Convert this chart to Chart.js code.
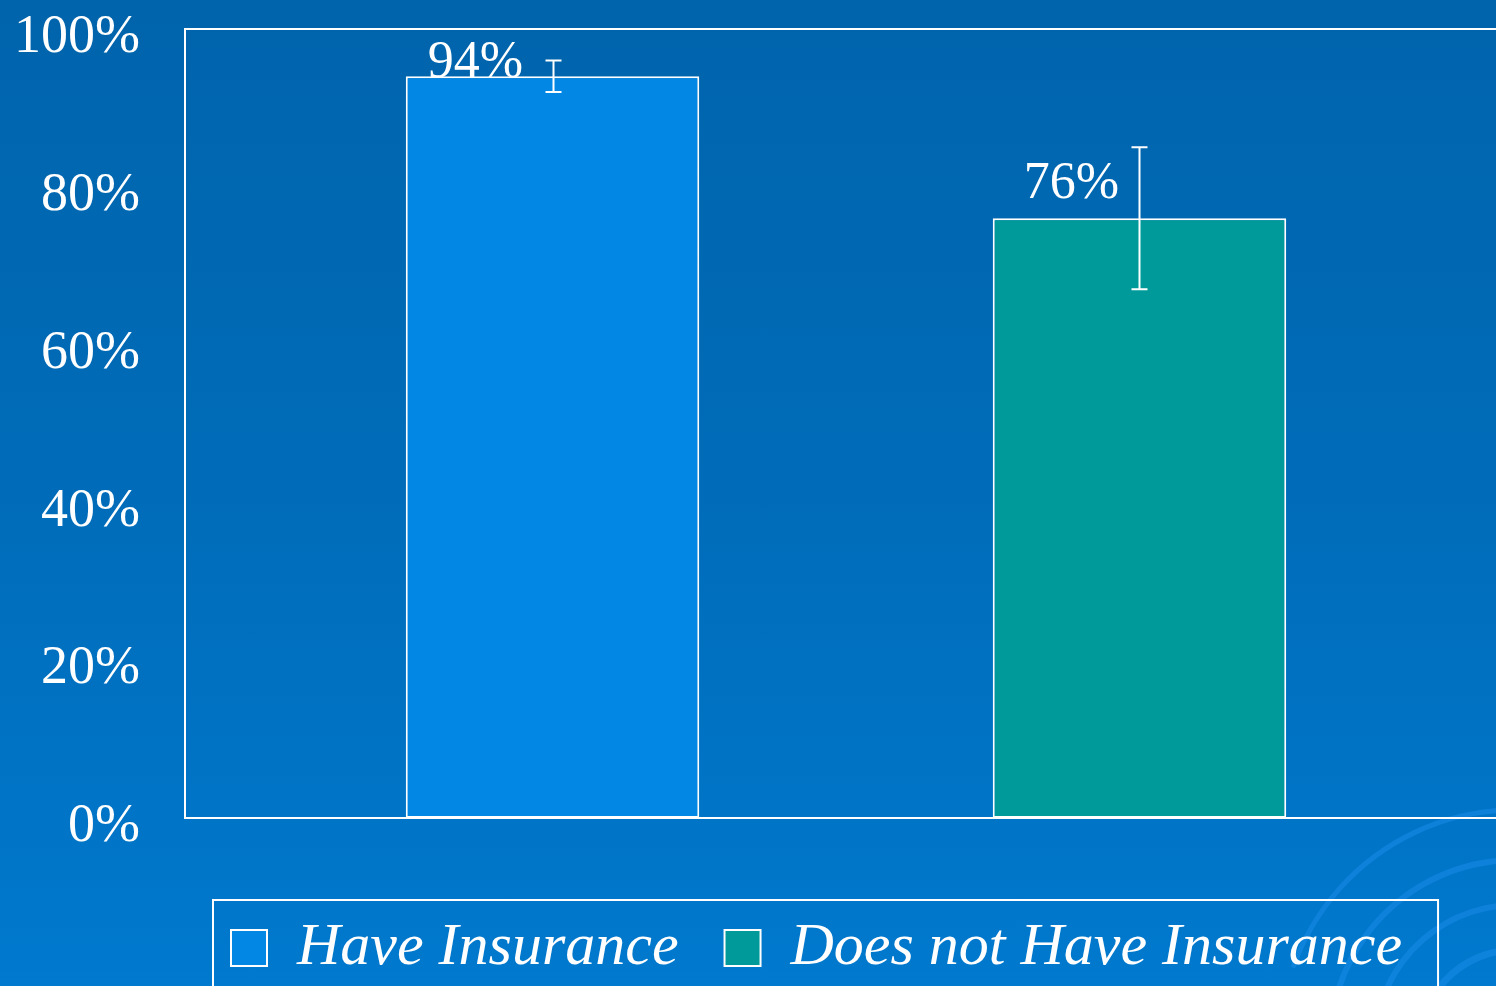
<!DOCTYPE html>
<html>
<head>
<meta charset="utf-8">
<title>Insurance</title>
<script src="https://cdn.jsdelivr.net/npm/chart.js@4.4.0/dist/chart.umd.min.js"></script>
<style>
    html, body {
        margin: 0;
        padding: 0;
        width: 1496px;
        height: 986px;
        overflow: hidden;
        background: linear-gradient(#0064ac, #006cb9 50%, #0079ce);
    }
    canvas { display: block; }
</style>
</head>
<body>
<canvas id="insurance-chart" width="1520" height="988"></canvas>
<script>
    'use strict';

    // series shown in the chart
    var seriesNames = ['Have Insurance', 'Does not Have Insurance'];
    var seriesValues = [94, 76];
    var seriesErrors = [2, 9];
    var seriesColors = ['#0287e4', '#009a9a'];
    var yTicks = [0, 20, 40, 60, 80, 100];

    var WHITE = '#ffffff';
    var SERIF = "'Liberation Serif', 'Times New Roman', serif";

    // faint rings in the lower right corner of the slide
    var backdropRings = {
        id: 'backdropRings',
        beforeDraw: function (chart) {
            var ctx = chart.ctx;
            ctx.save();
            ctx.strokeStyle = 'rgba(30, 145, 240, 0.45)';
            ctx.lineCap = 'round';
            [[95, 7], [140, 6], [185, 6], [235, 5]].forEach(function (r, i) {
                ctx.lineWidth = r[1];
                ctx.beginPath();
                ctx.arc(1515, 1045, r[0], Math.PI * (1.02 + i * 0.03), Math.PI * 1.62);
                ctx.stroke();
            });
            ctx.restore();
        }
    };

    // white frame round the plot area and round the legend
    var frames = {
        id: 'frames',
        afterDraw: function (chart) {
            var ctx = chart.ctx;
            var a = chart.chartArea;
            ctx.save();
            ctx.strokeStyle = WHITE;
            ctx.lineWidth = 2;
            ctx.strokeRect(a.left, a.top, a.right - a.left, a.bottom - a.top);

            var boxes = chart.legend.legendHitBoxes;
            if (boxes && boxes.length) {
                var first = boxes[0];
                var last = boxes[boxes.length - 1];
                var left = first.left - 18;
                var right = last.left + last.width + 36;
                var top = first.top - 18;
                ctx.strokeRect(left, top, right - left, chart.height + 10 - top);
            }
            ctx.restore();
        }
    };

    // error whiskers and value labels on each bar
    var barExtras = {
        id: 'barExtras',
        afterDatasetsDraw: function (chart, args, opts) {
            var ctx = chart.ctx;
            var y = chart.scales.y;
            ctx.save();
            ctx.strokeStyle = WHITE;
            ctx.fillStyle = WHITE;
            ctx.lineWidth = 2;
            seriesValues.forEach(function (v, i) {
                var bar = chart.getDatasetMeta(i).data[0];
                var x = Math.round(bar.x) + 0.5;
                var hi = y.getPixelForValue(v + seriesErrors[i]);
                var lo = y.getPixelForValue(v - seriesErrors[i]);
                ctx.beginPath();
                ctx.moveTo(x, hi);
                ctx.lineTo(x, lo);
                ctx.moveTo(x - 8, hi);
                ctx.lineTo(x + 8, hi);
                ctx.moveTo(x - 8, lo);
                ctx.lineTo(x + 8, lo);
                ctx.stroke();

                ctx.font = '52px ' + SERIF;
                ctx.textAlign = 'center';
                ctx.textBaseline = 'middle';
                ctx.fillText(v + '%', bar.x + opts.dx[i], y.getPixelForValue(v) + opts.dy[i]);
            });
            ctx.restore();
        }
    };

    var datasets = seriesNames.map(function (name, i) {
        return {
            label: name,
            data: [seriesValues[i]],
            backgroundColor: seriesColors[i],
            borderColor: WHITE,
            borderWidth: 2,
            borderSkipped: false,
            barPercentage: 0.5,
            categoryPercentage: 0.888
        };
    });

    new Chart(document.getElementById('insurance-chart'), {
        type: 'bar',
        data: {
            labels: [''],
            datasets: datasets
        },
        options: {
            responsive: false,
            animation: false,
            layout: {
                padding: { top: 29, right: 13, left: 0, bottom: 0 }
            },
            scales: {
                x: {
                    grid: { display: false, drawTicks: false },
                    border: { display: false },
                    ticks: { display: false },
                    afterFit: function (scale) { scale.height = 54; }
                },
                y: {
                    min: 0,
                    max: 100,
                    afterBuildTicks: function (scale) {
                        scale.ticks = yTicks.map(function (v) { return { value: v }; });
                    },
                    afterFit: function (scale) {
                        scale.width = 185;
                        scale.paddingTop = 0;
                        scale.paddingBottom = 0;
                    },
                    grid: { display: false, drawTicks: false },
                    border: { display: false },
                    ticks: {
                        color: WHITE,
                        padding: 45,
                        labelOffset: 9,
                        font: { family: SERIF, size: 54, lineHeight: 1 },
                        callback: function (v) { return v + '%'; }
                    }
                }
            },
            plugins: {
                tooltip: { enabled: false },
                legend: {
                    position: 'bottom',
                    align: 'start',
                    fullSize: false,
                    labels: {
                        color: WHITE,
                        boxWidth: 36,
                        boxHeight: 36,
                        padding: 46,
                        font: { family: SERIF, size: 60, style: 'italic' }
                    }
                },
                barExtras: {
                    dx: [-77, -68],
                    dy: [-13, -34]
                }
            }
        },
        plugins: [backdropRings, barExtras, frames]
    });
</script>
</body>
</html>
